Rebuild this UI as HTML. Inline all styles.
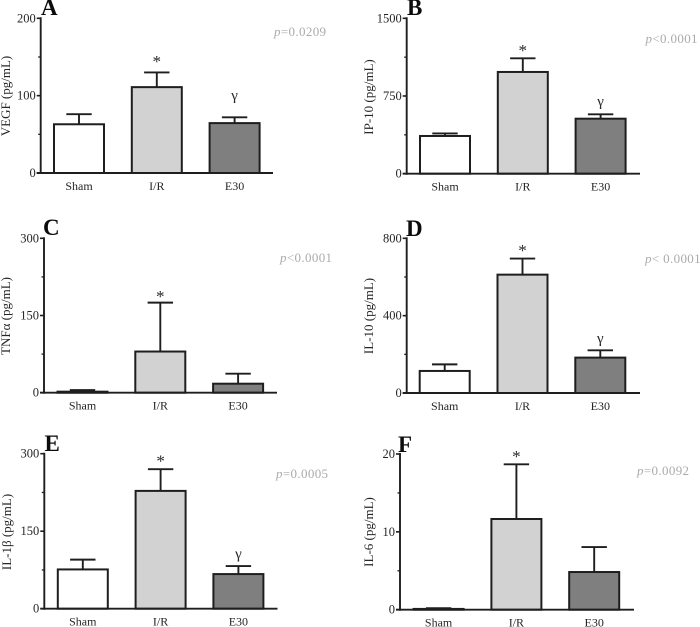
<!DOCTYPE html>
<html>
<head>
<meta charset="utf-8">
<title>Cytokine bar charts</title>
<style>
html,body{margin:0;padding:0;background:#fff;}
svg{display:block;font-family:"Liberation Serif",serif;}
</style>
</head>
<body>
<svg id="figure" width="700" height="627" viewBox="0 0 700 627" xmlns="http://www.w3.org/2000/svg"></svg>
<script>
var categories = ["Sham", "I/R", "E30"];
var barFills = ["#ffffff", "#d2d2d2", "#7f7f7f"];

var vegfMeans = [63, 111, 64.5];
var vegfErrorTops = [76, 130, 72];
var vegfTicks = [0, 100, 200];

var ip10Means = [364, 982, 531];
var ip10ErrorTops = [389, 1114, 573];
var ip10Ticks = [0, 750, 1500];

var tnfMeans = [2, 80, 17.5];
var tnfErrorTops = [5, 175, 37];
var tnfTicks = [0, 150, 300];

var il10Means = [114, 612, 183];
var il10ErrorTops = [148, 695, 221];
var il10Ticks = [0, 400, 800];

var il1bMeans = [76, 228, 67];
var il1bErrorTops = [95, 270, 82.5];
var il1bTicks = [0, 150, 300];

var il6Means = [0.1, 11.65, 4.84];
var il6ErrorTops = [0.2, 18.67, 8.05];
var il6Ticks = [0, 10, 20];

var panels = [
  {key:"a", letter:"A", title:"VEGF (pg/mL)", p:"=0.0209", means:vegfMeans, tops:vegfErrorTops, ticks:vegfTicks,
   ax:40.7, top:18.3, base:173, end:273, bar0:54, lx:41, ly:15, px:274, py:36, tx:10, ty:96, star:13, gamma:21, hasGamma:true},
  {key:"b", letter:"B", title:"IP-10 (pg/mL)", p:"<0.0001", means:ip10Means, tops:ip10ErrorTops, ticks:ip10Ticks,
   ax:406.7, top:18.3, base:173.7, end:640, bar0:420, lx:407, ly:15, px:645.5, py:43, tx:373, ty:97, star:10, gamma:12, hasGamma:true},
  {key:"c", letter:"C", title:"TNFα (pg/mL)", p:"<0.0001", means:tnfMeans, tops:tnfErrorTops, ticks:tnfTicks,
   ax:44, top:238.3, base:392.7, end:277, bar0:57.5, lx:43, ly:235, px:280, py:262, tx:10, ty:316, star:8, gamma:0, hasGamma:false},
  {key:"d", letter:"D", title:"IL-10 (pg/mL)", p:"< 0.0001", means:il10Means, tops:il10ErrorTops, ticks:il10Ticks,
   ax:406.7, top:238.3, base:393, end:640, bar0:419.7, lx:406, ly:236, px:645, py:263, tx:373, ty:316, star:10, gamma:11, hasGamma:true},
  {key:"e", letter:"E", title:"IL-1β (pg/mL)", p:"=0.0005", means:il1bMeans, tops:il1bErrorTops, ticks:il1bTicks,
   ax:44.3, top:453.7, base:608.7, end:277.5, bar0:57.8, lx:44.5, ly:451, px:276, py:478, tx:11, ty:532, star:10, gamma:11, hasGamma:true},
  {key:"f", letter:"F", title:"IL-6 (pg/mL)", p:"=0.0092", means:il6Means, tops:il6ErrorTops, ticks:il6Ticks,
   ax:400, top:454, base:609.7, end:634, bar0:413.6, lx:398, ly:452, px:637, py:475, tx:373, ty:532, star:10, gamma:0, hasGamma:false}
];

var NS = "http://www.w3.org/2000/svg";
var INK = "#1e1e1e";
var TEXT = "#262626";
var BAR_W = 50;
var BAR_STEP = 77.8;

function make(parent, tag, attrs, content) {
  var el = document.createElementNS(NS, tag);
  for (var k in attrs) { el.setAttribute(k, attrs[k]); }
  if (content !== undefined) { el.textContent = content; }
  parent.appendChild(el);
  return el;
}

function yScale(panel, value) {
  var max = panel.ticks[panel.ticks.length - 1];
  return panel.base - (value / max) * (panel.base - panel.top);
}

function drawPanel(svg, panel) {
  var g = make(svg, "g", {});
  
  

  // bars and error bars
  categories.forEach(function (cat, i) {
    var x0 = panel.bar0 + i * BAR_STEP;
    var cx = x0 + BAR_W / 2;
    var yMean = yScale(panel, panel.means[i]);
    var yTop = yScale(panel, panel.tops[i]);

    var stem = make(g, "line", {x1:cx, x2:cx, y1:yMean, y2:yTop, stroke:INK, "stroke-width":1.9});
    
    

    var cap = make(g, "line", {x1:cx - 12.7, x2:cx + 12.7, y1:yTop, y2:yTop, stroke:INK, "stroke-width":1.9});
    
    

    var bar = make(g, "rect", {x:x0, y:yMean, width:BAR_W, height:Math.max(panel.base - yMean, 0), fill:barFills[i], stroke:INK, "stroke-width":2});
    
    

    var label = make(g, "text", {x:cx, y:panel.base + 17, "text-anchor":"middle", "font-size":12, fill:TEXT}, cat);
    
    

    if (i === 1) {
      var star = make(g, "text", {x:cx, y:yTop - panel.star + 7.5, "text-anchor":"middle", "font-size":17, fill:TEXT}, "*");
      
      
    }
    if (i === 2 && panel.hasGamma) {
      var gamma = make(g, "text", {x:cx, y:yTop - panel.gamma + 3.5, "text-anchor":"middle", "font-size":15, fill:TEXT}, "γ");
      
      
    }
  });

  // axes
  var yAxis = make(g, "line", {x1:panel.ax, x2:panel.ax, y1:panel.top - 1, y2:panel.base + 1, stroke:INK, "stroke-width":1.9});
  
  

  var xAxis = make(g, "line", {x1:panel.ax - 4, x2:panel.end, y1:panel.base, y2:panel.base, stroke:INK, "stroke-width":1.9});
  
  

  // ticks, including the unlabelled midpoints
  panel.ticks.forEach(function (t, i) {
    var y = yScale(panel, t);
    var tick = make(g, "line", {x1:panel.ax - 4, x2:panel.ax, y1:y, y2:y, stroke:INK, "stroke-width":1.6});
    
    

    var txt = make(g, "text", {x:panel.ax - 5, y:y + 4, "text-anchor":"end", "font-size":12.5, fill:TEXT}, String(t));
    
    

    if (i > 0) {
      var yMid = yScale(panel, (t + panel.ticks[i - 1]) / 2);
      var minor = make(g, "line", {x1:panel.ax - 2.5, x2:panel.ax, y1:yMid, y2:yMid, stroke:INK, "stroke-width":1.3});
      
      
    }
  });

  // y-axis title
  var title = make(g, "text", {x:0, y:0, "text-anchor":"middle", "font-size":13, fill:TEXT,
    transform:"translate(" + panel.tx + "," + panel.ty + ") rotate(-90)"}, panel.title);
  
  

  // panel letter
  var letter = make(g, "text", {x:panel.lx, y:panel.ly, "font-size":23, "font-weight":"bold", fill:"#0c0c0c"}, panel.letter);
  
  

  // p value
  var pText = make(g, "text", {x:panel.px, y:panel.py, "font-size":13, fill:"#ababab", "letter-spacing":"0.35"});
  
  
  make(pText, "tspan", {"font-style":"italic"}, "p");
  make(pText, "tspan", {}, panel.p);
}

var figure = document.getElementById("figure");
panels.forEach(function (panel) { drawPanel(figure, panel); });
</script>
</body>
</html>
